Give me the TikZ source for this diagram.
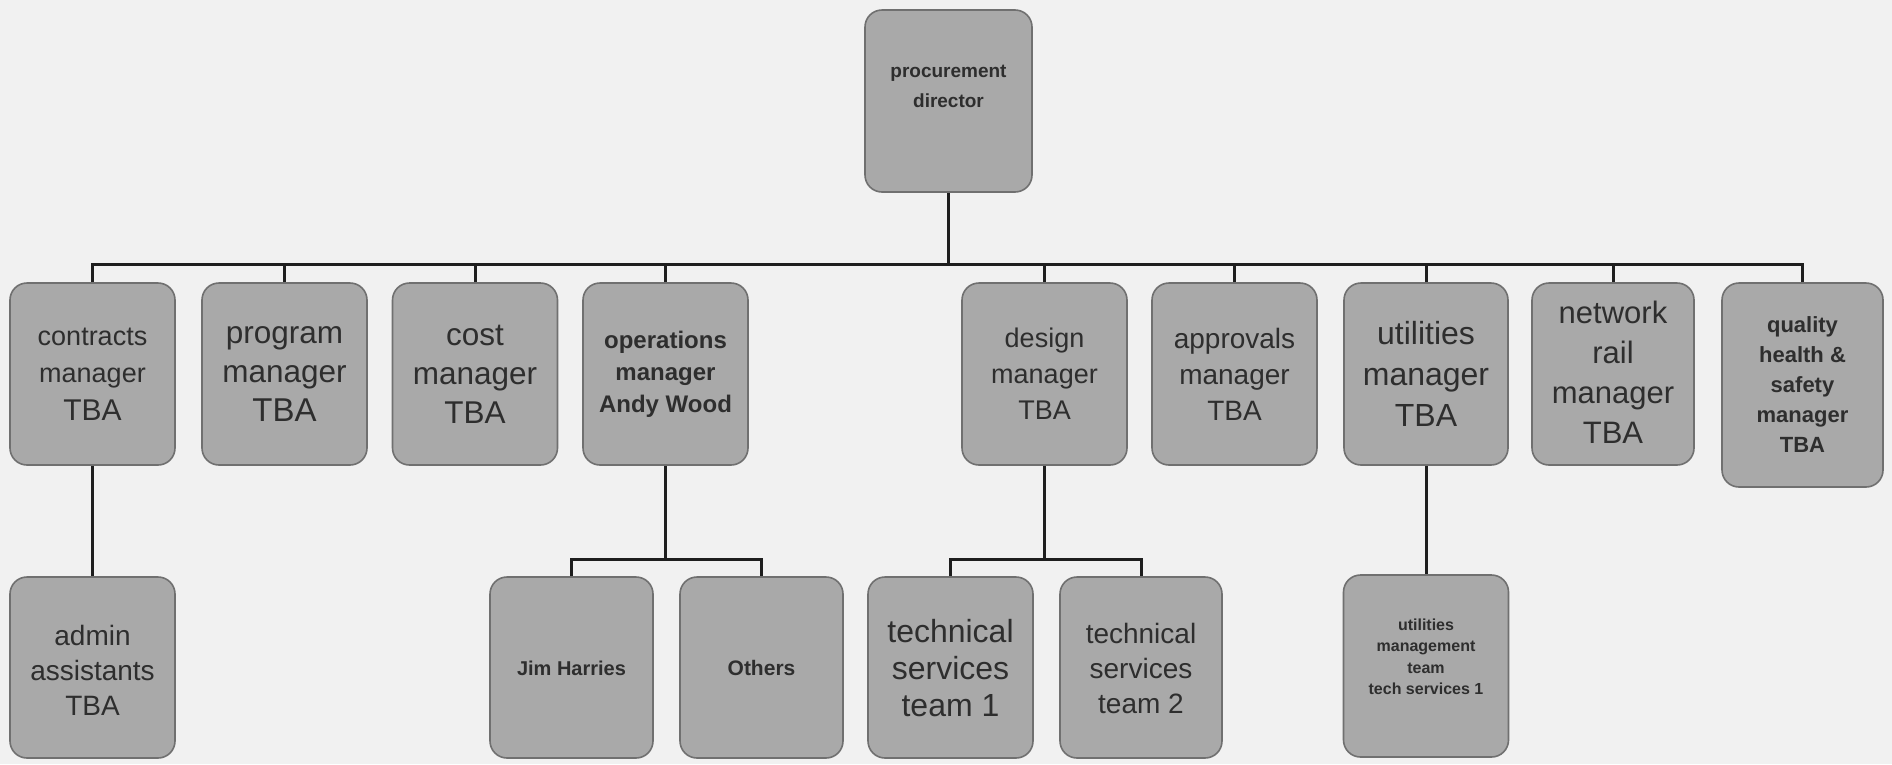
\documentclass[tikz,border=0pt]{standalone}
\usepackage{fontspec}
\setmainfont{Liberation Sans}
\newcommand\fsz[2]{\fontsize{#1}{#2}\selectfont}
\definecolor{bg}{HTML}{F1F1F1}
\definecolor{boxfill}{HTML}{A9A9A9}
\definecolor{boxline}{HTML}{707070}
\definecolor{wire}{HTML}{1E1E1E}
\definecolor{txt}{HTML}{2E2E2E}
\tikzset{
  orgbox/.style={draw=boxline, line width=1.6pt, fill=boxfill, rounded corners=17pt,
    minimum width=165pt, minimum height=182pt, inner sep=0pt},
  lbl/.style={align=center, text=txt, inner sep=0pt},
  wireline/.style={draw=wire, line width=3pt}
}
\begin{document}
\begin{tikzpicture}[x=1pt, y=-1pt]
\useasboundingbox (0,0) rectangle (1892,764);
\fill[bg] (0,0) rectangle (1892,764);

% bus levels
\coordinate (bus) at (0,264);
\coordinate (opsbus) at (0,559);
\coordinate (desbus) at (0,559);

% top
\node[orgbox, minimum width=167pt] (dir) at (948.5,101) {};
\node[lbl, font=\fsz{19}{30}\bfseries] (dir-t) at (948.5,86) {procurement\\director};

% first level
\node[orgbox] (con) at (92.5,374) {};
\node[orgbox] (prg) at (284.5,374) {};
\node[orgbox] (cst) at (475,374) {};
\node[orgbox] (ops) at (665.5,374) {};
\node[orgbox] (des) at (1044.5,374) {};
\node[orgbox] (apr) at (1234.5,374) {};
\node[orgbox, minimum width=164pt] (utl) at (1426,374) {};
\node[orgbox, minimum width=162pt] (net) at (1613,374) {};
\node[orgbox, minimum width=161pt, minimum height=204pt] (qhs) at (1802.5,385) {};

\node[lbl, font=\fsz{27}{37.5}] (con-t) at (con.center) {contracts\\manager\\\fsz{30}{37.5}TBA};
\node[lbl, font=\fsz{31.5}{39}] (prg-t) at (prg.center) {program\\manager\\\fsz{33}{39}TBA};
\node[lbl, font=\fsz{31.5}{39}] (cst-t) at (cst.center) {cost\\manager\\TBA};
\node[lbl, font=\fsz{24}{32}\bfseries] (ops-t) at (ops.center) {operations\\manager\\Andy Wood};
\node[lbl, font=\fsz{27}{36}] (des-t) at (des.center) {design\\manager\\TBA};
\node[lbl, font=\fsz{28}{36}] (apr-t) at (apr.center) {approvals\\manager\\TBA};
\node[lbl, font=\fsz{32}{41}] (utl-t) at (1426,374) {utilities\\manager\\TBA};
\node[lbl, font=\fsz{31}{40}] (net-t) at (1613,372) {network\\rail\\manager\\TBA};
\node[lbl, font=\fsz{22}{30}\bfseries] (qhs-t) at (qhs.center) {quality\\health \&\\safety\\manager\\TBA};

% second level
\node[orgbox, minimum height=181pt] (adm) at (92.5,667.5) {};
\node[orgbox, minimum width=163pt, minimum height=181pt] (jim) at (571.5,667.5) {};
\node[orgbox, minimum width=163pt, minimum height=181pt] (oth) at (761.5,667.5) {};
\node[orgbox, minimum height=181pt] (ts1) at (950.5,667.5) {};
\node[orgbox, minimum width=162pt, minimum height=181pt] (ts2) at (1141,667.5) {};
\node[orgbox, minimum height=182pt] (umt) at (1426,666) {};

\node[lbl, font=\fsz{28}{35}] (adm-t) at (92.5,670) {admin\\assistants\\TBA};
\node[lbl, font=\fsz{20}{26}\bfseries] (jim-t) at (571.5,668) {Jim Harries};
\node[lbl, font=\fsz{21}{26}\bfseries] (oth-t) at (761.5,668) {Others};
\node[lbl, font=\fsz{32}{37}] (ts1-t) at (950.5,668) {technical\\services\\team 1};
\node[lbl, font=\fsz{28}{35}] (ts2-t) at (1141,668) {technical\\services\\team 2};
\node[lbl, font=\fsz{16}{21.5}\bfseries] (umt-t) at (1426,657) {utilities\\management\\team\\tech services 1};

% connectors: director to first level
\draw[wireline] (dir.south) -- (dir.south |- bus);
\draw[wireline, line cap=rect] (con.north |- bus) -- (qhs.north |- bus);
\foreach \n in {con,prg,cst,ops,des,apr,utl,net,qhs}
  \draw[wireline] (\n.north) -- (\n.north |- bus);

% connectors: first level to second level
\draw[wireline] (con.south) -- (adm.north);
\draw[wireline] (utl.south) -- (umt.north);
\draw[wireline] (ops.south) -- (ops.south |- opsbus);
\draw[wireline, line join=miter] (jim.north) |- (ops.south |- opsbus) -| (oth.north);
\draw[wireline] (des.south) -- (des.south |- desbus);
\draw[wireline, line join=miter] (ts1.north) |- (des.south |- desbus) -| (ts2.north);
\end{tikzpicture}
\end{document}
